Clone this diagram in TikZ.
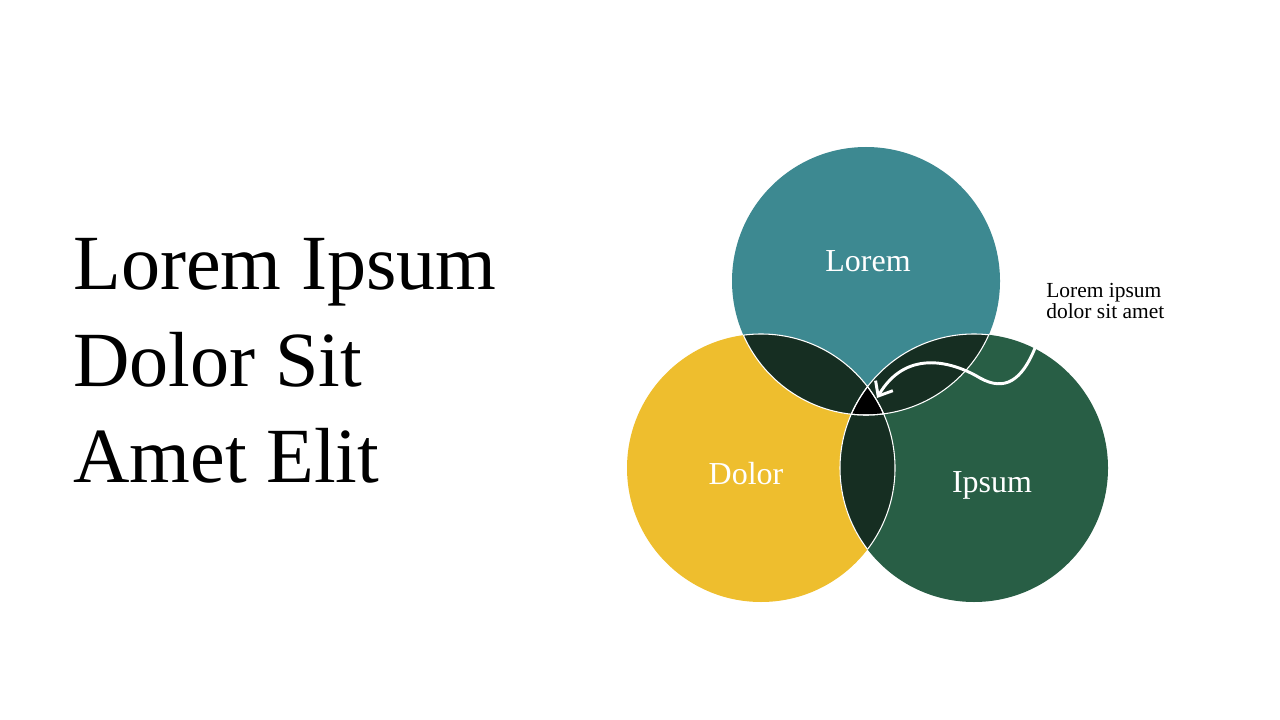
\documentclass[tikz,border=0pt]{standalone}
\usepackage{fontspec}
\setmainfont{Liberation Serif}
\usetikzlibrary{arrows.meta}
\definecolor{lorem}{HTML}{3D8991}
\definecolor{dolor}{HTML}{EEBE2E}
\definecolor{ipsum}{HTML}{285E45}
\definecolor{lens}{HTML}{162E22}

\begin{document}
\begin{tikzpicture}[x=0.75pt,y=-0.75pt,
 setlabel/.style={text=white,font=\fontsize{24}{28}\selectfont,anchor=base},
 titleline/.style={font=\fontsize{58.6}{70}\selectfont,anchor=base west,inner sep=0pt},
 noteline/.style={font=\fontsize{16.1}{18}\selectfont,anchor=base west,inner sep=0pt},
 lensline/.style={draw=white,line width=0.8pt},
 wave/.style={draw=white,line width=2.2pt,-{Straight Barb[length=9pt,width=15pt,line width=2.2pt]}}]
\useasboundingbox (0,0) rectangle (1280,720);
\def\rad{134}
\coordinate (ct) at (866,281);
\coordinate (cd) at (761,468);
\coordinate (ci) at (974,468);
% the three sets
\fill[lorem] (ct) circle (\rad);
\fill[dolor] (cd) circle (\rad);
\fill[ipsum] (ci) circle (\rad);
% overlaps
\begin{scope}
 \clip (ct) circle (\rad);
 \fill[lens] (cd) circle (\rad);
 \fill[lens] (ci) circle (\rad);
\end{scope}
\begin{scope}
 \clip (cd) circle (\rad);
 \fill[lens] (ci) circle (\rad);
\end{scope}
% middle of all three
\begin{scope}
 \clip (ct) circle (\rad);
 \clip (cd) circle (\rad);
 \fill[black] (ci) circle (\rad);
\end{scope}
% white edges of the overlaps
\begin{scope}
 \clip (ct) circle (\rad);
 \draw[lensline] (cd) circle (\rad) (ci) circle (\rad);
\end{scope}
\begin{scope}
 \clip (cd) circle (\rad);
 \draw[lensline] (ct) circle (\rad) (ci) circle (\rad);
\end{scope}
\begin{scope}
 \clip (ci) circle (\rad);
 \draw[lensline] (ct) circle (\rad) (cd) circle (\rad);
\end{scope}
% labels
\node[setlabel] (lbllorem) at (868,272) {Lorem};
\node[setlabel] (lbldolor) at (746,484) {Dolor};
\node[setlabel] (lblipsum) at (992,492) {Ipsum};
% title
\node[titleline] (title1) at (73,289) {Lorem Ipsum};
\node[titleline] (title2) at (73,386) {Dolor Sit};
\node[titleline] (title3) at (73,482) {Amet Elit};
% note with arrow
\node[noteline] (note1) at (1046,297) {Lorem ipsum};
\node[noteline] (note2) at (1046,318) {dolor sit amet};
\coordinate (wavestart) at (1035,348);
\coordinate (waveend) at (877,398);
\draw[wave] (wavestart) .. controls (1022,380) and (1005,392) .. (980,378)
 .. controls (950,360) and (905,350) .. (waveend);
\end{tikzpicture}
\end{document}
